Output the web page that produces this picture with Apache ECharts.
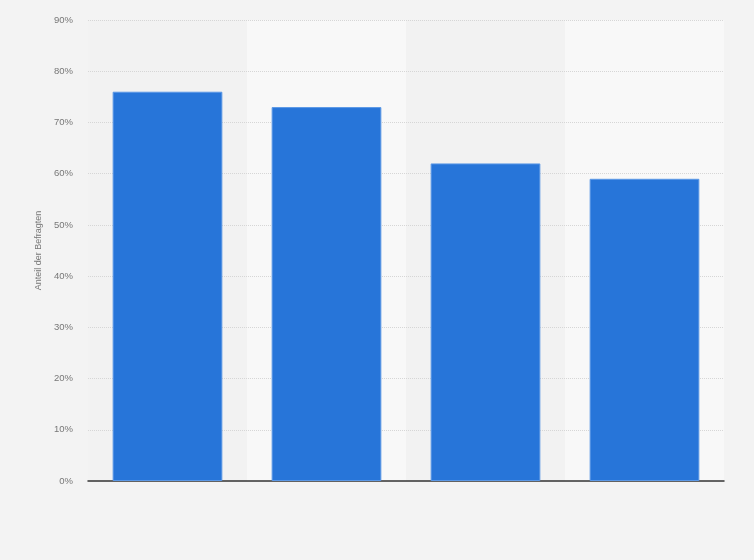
<!DOCTYPE html>
<html>
<head>
<meta charset="utf-8">
<script src="https://cdn.jsdelivr.net/npm/echarts@6/dist/echarts.min.js"></script>
<style>
  html, body { margin: 0; padding: 0; background: #f3f3f3; }
  #chart { width: 754px; height: 560px; }
</style>
</head>
<body>
<div id="chart"></div>
<script>
// categories have no visible labels in the source picture
const categories = ["A", "B", "C", "D"];
const shares = [76, 73, 62, 59];
const yTicks = [0, 10, 20, 30, 40, 50, 60, 70, 80, 90];

const chart = echarts.init(document.getElementById("chart"));

chart.setOption({
  backgroundColor: "#f3f3f3",
  animation: false,
  grid: { left: 88, right: 30, top: 20, bottom: 79 },
  xAxis: {
    type: "category",
    data: categories,
    z: 0,
    axisLine: { lineStyle: { color: "#333", width: 1.5 } },
    axisTick: { show: false },
    axisLabel: { show: false },
    splitArea: { show: true, areaStyle: { color: ["#f2f2f2", "#f8f8f8"] } },
  },
  yAxis: {
    type: "value",
    z: 1,
    min: yTicks[0],
    max: yTicks[yTicks.length - 1],
    interval: 10,
    name: "Anteil der Befragten",
    nameLocation: "middle",
    nameGap: 40,
    nameTextStyle: { color: "#777", fontSize: 9, fontFamily: "Liberation Sans" },
    axisLine: { show: false },
    axisTick: { show: false },
    axisLabel: {
      color: "#777",
      fontSize: 9.5,
      fontFamily: "Liberation Sans",
      margin: 15,
      formatter: (v) => v + "%",
    },
    splitLine: { showMinLine: false, lineStyle: { color: "#d6d6d6", type: [1, 1], width: 1 } },
  },
  series: [
    {
      type: "bar",
      data: shares,
      z: 2,
      barCategoryGap: "31%",
      itemStyle: { color: "#2775d9", borderColor: "#5b98e6", borderWidth: 1 },
    },
  ],
});
</script>
</body>
</html>
